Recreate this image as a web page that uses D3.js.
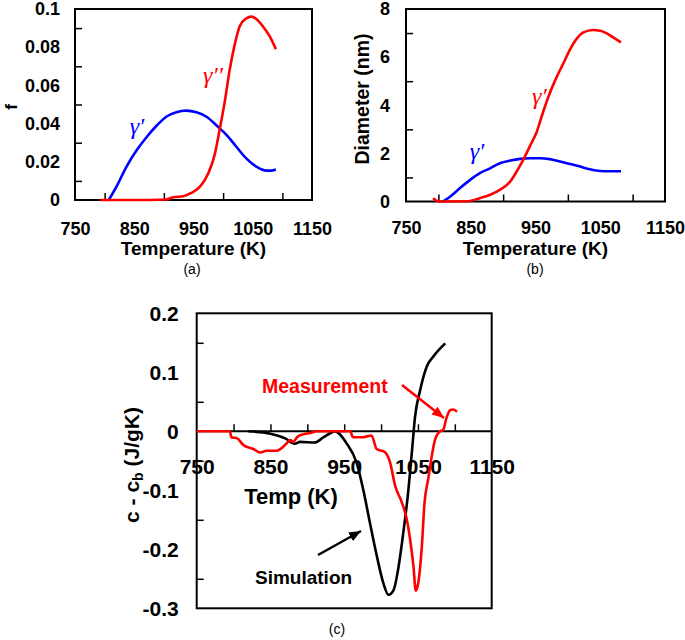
<!DOCTYPE html>
<html>
<head>
<meta charset="utf-8">
<script src="https://cdn.jsdelivr.net/npm/d3@7"></script>
<style>
  body { margin: 0; background: #fff; }
  svg text { font-family: "Liberation Sans", Arial, sans-serif; }
  svg text.greek { font-family: "Liberation Serif", "DejaVu Serif", serif; font-style: italic; }
</style>
</head>
<body>
<div id="chart"></div>
<script>
// Data
// (a) volume fraction vs temperature
const aGp_T = [807, 820, 837, 854, 871, 888, 904, 921, 938, 955, 972, 989, 1006, 1022, 1039, 1056, 1073, 1081, 1089];
const aGp_f = [0, 0.007, 0.0175, 0.026, 0.033, 0.039, 0.0436, 0.046, 0.0468, 0.0459, 0.0436, 0.039, 0.034, 0.028, 0.0218, 0.0175, 0.0154, 0.0154, 0.016];
const aGpp_T = [792, 850, 904, 916, 933, 947, 961, 975, 986, 994, 1003, 1011, 1020, 1028, 1039, 1048, 1056, 1067, 1079, 1089];
const aGpp_f = [0, 0, 0.0003, 0.0014, 0.002, 0.0038, 0.007, 0.014, 0.024, 0.0366, 0.052, 0.068, 0.082, 0.091, 0.0951, 0.096, 0.0948, 0.091, 0.0855, 0.079];

// (b) diameter vs temperature
const bGp_T = [807, 818, 833, 849, 864, 880, 895, 911, 926, 941, 957, 972, 988, 1003, 1019, 1034, 1050, 1065, 1082];
const bGp_D = [0, 0.2, 0.55, 0.9, 1.18, 1.38, 1.59, 1.7, 1.77, 1.8, 1.8, 1.76, 1.66, 1.56, 1.45, 1.34, 1.27, 1.26, 1.26];
const bGpp_T = [792, 797, 803, 844, 864, 880, 895, 911, 921, 931, 941, 952, 962, 972, 983, 993, 1003, 1014, 1024, 1039, 1050, 1060, 1070, 1082];
const bGpp_D = [0.14, 0.03, 0, 0.01, 0.14, 0.28, 0.48, 0.83, 1.25, 1.73, 2.28, 2.9, 3.74, 4.5, 5.19, 5.74, 6.3, 6.78, 7.03, 7.13, 7.1, 6.99, 6.82, 6.61];

// (c) c - cb vs temperature
const simT = [820, 850, 870, 883, 890, 910, 922, 933, 937, 953, 967, 976, 985, 994, 1003, 1010, 1017, 1023, 1030, 1037, 1042, 1046, 1053, 1062, 1071, 1087];
const simC = [0, -0.004, -0.012, -0.021, -0.018, -0.019, -0.01, -0.002, 0, -0.02, -0.054, -0.1, -0.156, -0.21, -0.257, -0.277, -0.269, -0.235, -0.173, -0.1, -0.032, 0.024, 0.07, 0.11, 0.127, 0.149];
const measT = [750, 795, 797, 805, 813, 827, 836, 845, 858, 870, 877, 881, 886, 895, 904, 913, 958, 962, 976, 987, 994, 1005, 1012, 1019, 1028, 1035, 1039, 1044, 1047, 1050, 1055, 1059, 1064, 1069, 1073, 1080, 1084, 1089, 1094, 1098, 1103];
const measC = [0, 0, -0.01, -0.012, -0.023, -0.03, -0.036, -0.033, -0.033, -0.023, -0.015, -0.018, -0.01, -0.005, -0.003, 0, 0, -0.01, -0.01, -0.007, -0.03, -0.035, -0.052, -0.092, -0.12, -0.15, -0.18, -0.23, -0.27, -0.26, -0.2, -0.12, -0.08, -0.04, -0.015, 0, 0.002, 0.024, 0.036, 0.037, 0.033];

// Tick values
const tempLabels = [750, 850, 950, 1050, 1150];
const tempMinor = [800, 900, 1000, 1100];
const tempMinorC = [800, 850, 900, 950, 1000, 1050, 1100];
const fLabels = [0, 0.02, 0.04, 0.06, 0.08, 0.1];
const fMinor = [0.01, 0.03, 0.05, 0.07, 0.09];
const dLabels = [0, 2, 4, 6, 8];
const dMinor = [1, 3, 5, 7];
const cLabels = [-0.3, -0.2, -0.1, 0, 0.1, 0.2];
const cMinor = [-0.25, -0.15, -0.05, 0.05, 0.15];

const svg = d3.select('#chart').append('svg')
  .attr('width', 685)
  .attr('height', 640);

const defs = svg.append('defs');
['black', 'red'].forEach(c => {
  defs.append('marker')
    .attr('id', 'arrow-' + c)
    .attr('markerUnits', 'userSpaceOnUse')
    .attr('viewBox', '0 0 12 10')
    .attr('refX', 12).attr('refY', 5)
    .attr('markerWidth', 12).attr('markerHeight', 10)
    .attr('orient', 'auto')
    .append('path')
    .attr('d', 'M0,0 L12,5 L0,10 Z')
    .attr('fill', c);
});

const numFmt = d => d < 0 ? '-' + Math.abs(d) : String(d);

function styleLabels(g, size) {
  g.select('.domain').remove();
  g.selectAll('text')
    .attr('font-size', size)
    .attr('font-weight', 'bold')
    .attr('fill', '#000');
}

function drawLine(xs, ys, x, y, color) {
  const pts = xs.map((t, i) => [t, ys[i]]);
  svg.append('path')
    .datum(pts)
    .attr('fill', 'none')
    .attr('stroke', color)
    .attr('stroke-width', 2.6)
    .attr('stroke-linejoin', 'round')
    .attr('d', d3.line().x(d => x(d[0])).y(d => y(d[1])).curve(d3.curveMonotoneX));
}

function gammaLabel(x, y, txt, color) {
  svg.append('text')
    .attr('class', 'greek')
    .attr('x', x).attr('y', y)
    .attr('text-anchor', 'middle')
    .attr('font-size', 24)
    .attr('fill', color)
    .text(txt);
}

// Panel (a) and (b) share the same frame style
function smallPanel(x, y, yLabels, yMinor, yPad, xPad) {
  svg.append('g')
    .attr('transform', `translate(${x.range()[0]},0)`)
    .call(d3.axisLeft(y).tickValues(yLabels).tickSize(0).tickPadding(yPad).tickFormat(numFmt))
    .call(g => styleLabels(g, 18));
  svg.append('g')
    .attr('transform', `translate(0,${y(0)})`)
    .call(d3.axisBottom(x).tickValues(tempLabels).tickSize(0).tickPadding(xPad).tickFormat(numFmt))
    .call(g => styleLabels(g, 18));
  // inside ticks
  svg.append('g')
    .attr('transform', `translate(${x.range()[0]},0)`)
    .call(d3.axisLeft(y).tickValues(yMinor).tickSize(-7).tickFormat(''))
    .call(g => g.select('.domain').remove())
    .call(g => g.selectAll('line').attr('stroke', '#000').attr('stroke-width', 1.5));
  svg.append('g')
    .attr('transform', `translate(0,${y(0)})`)
    .call(d3.axisTop(x).tickValues(tempMinor).tickSize(7).tickFormat(''))
    .call(g => g.select('.domain').remove())
    .call(g => g.selectAll('line').attr('stroke', '#000').attr('stroke-width', 1.5));
  svg.append('rect')
    .attr('x', x.range()[0]).attr('y', y.range()[1])
    .attr('width', x.range()[1] - x.range()[0])
    .attr('height', y.range()[0] - y.range()[1])
    .attr('fill', 'none')
    .attr('stroke', '#000')
    .attr('stroke-width', 2);
}

// ---- Panel (a)
const xA = d3.scaleLinear().domain([750, 1150]).range([75, 312]);
const yA = d3.scaleLinear().domain([0, 0.1]).range([200, 9]);
smallPanel(xA, yA, fLabels, fMinor, 15, 22);
drawLine(aGp_T, aGp_f, xA, yA, '#0000ff');
drawLine(aGpp_T, aGpp_f, xA, yA, '#ff0000');
gammaLabel(137, 134, 'γ′', '#0000ff');
gammaLabel(213, 83, 'γ′′', '#ff0000');

svg.append('text')
  .attr('transform', 'translate(17,107) rotate(-90)')
  .attr('text-anchor', 'middle')
  .attr('font-size', 17).attr('font-weight', 'bold')
  .text('f');
svg.append('text')
  .attr('x', 193.5).attr('y', 255)
  .attr('text-anchor', 'middle')
  .attr('font-size', 19).attr('font-weight', 'bold')
  .text('Temperature (K)');
svg.append('text')
  .attr('x', 192).attr('y', 274)
  .attr('text-anchor', 'middle')
  .attr('font-size', 14)
  .text('(a)');

// ---- Panel (b)
const xB = d3.scaleLinear().domain([750, 1150]).range([406, 665]);
const yB = d3.scaleLinear().domain([0, 8]).range([201.5, 9]);
smallPanel(xB, yB, dLabels, dMinor, 16, 20);
drawLine(bGp_T, bGp_D, xB, yB, '#0000ff');
drawLine(bGpp_T, bGpp_D, xB, yB, '#ff0000');
gammaLabel(542, 104, 'γ′′', '#ff0000');
gammaLabel(477, 159, 'γ′', '#0000ff');

svg.append('text')
  .attr('transform', 'translate(369,99) rotate(-90)')
  .attr('text-anchor', 'middle')
  .attr('font-size', 19.5).attr('font-weight', 'bold')
  .text('Diameter (nm)');
svg.append('text')
  .attr('x', 535.5).attr('y', 255)
  .attr('text-anchor', 'middle')
  .attr('font-size', 19).attr('font-weight', 'bold')
  .text('Temperature (K)');
svg.append('text')
  .attr('x', 535).attr('y', 274)
  .attr('text-anchor', 'middle')
  .attr('font-size', 14)
  .text('(b)');

// ---- Panel (c)
const xC = d3.scaleLinear().domain([750, 1150]).range([196.7, 491.7]);
const yC = d3.scaleLinear().domain([-0.3, 0.2]).range([608.3, 313.3]);

svg.append('g')
  .attr('transform', `translate(${xC.range()[0]},0)`)
  .call(d3.axisLeft(yC).tickValues(cLabels).tickSize(0).tickPadding(18).tickFormat(numFmt))
  .call(g => styleLabels(g, 21));
svg.append('g')
  .attr('transform', `translate(0,${yC(0)})`)
  .call(d3.axisBottom(xC).tickValues(tempLabels).tickSize(0).tickPadding(28).tickFormat(numFmt))
  .call(g => styleLabels(g, 21));
svg.append('g')
  .attr('transform', `translate(${xC.range()[0]},0)`)
  .call(d3.axisLeft(yC).tickValues(cMinor).tickSize(-7).tickFormat(''))
  .call(g => g.select('.domain').remove())
  .call(g => g.selectAll('line').attr('stroke', '#000').attr('stroke-width', 1.5));
svg.append('g')
  .attr('transform', `translate(0,${yC(0)})`)
  .call(d3.axisTop(xC).tickValues(tempMinorC).tickSize(7).tickFormat(''))
  .call(g => g.select('.domain').remove())
  .call(g => g.selectAll('line').attr('stroke', '#000').attr('stroke-width', 1.5));
svg.append('line')
  .attr('x1', xC.range()[0]).attr('x2', xC.range()[1])
  .attr('y1', yC(0)).attr('y2', yC(0))
  .attr('stroke', '#000').attr('stroke-width', 2);
svg.append('rect')
  .attr('x', xC.range()[0]).attr('y', yC.range()[1])
  .attr('width', xC.range()[1] - xC.range()[0])
  .attr('height', yC.range()[0] - yC.range()[1])
  .attr('fill', 'none')
  .attr('stroke', '#000')
  .attr('stroke-width', 2);

drawLine(simT, simC, xC, yC, '#000000');
drawLine(measT, measC, xC, yC, '#ff0000');

// annotations
svg.append('text')
  .attr('x', 262).attr('y', 393)
  .attr('font-size', 19.5).attr('font-weight', 'bold')
  .attr('fill', '#ff0000')
  .text('Measurement');
svg.append('line')
  .attr('x1', 402).attr('y1', 385).attr('x2', 444).attr('y2', 418)
  .attr('stroke', '#ff0000').attr('stroke-width', 2.5)
  .attr('marker-end', 'url(#arrow-red)');
svg.append('text')
  .attr('x', 255).attr('y', 584)
  .attr('font-size', 19).attr('font-weight', 'bold')
  .text('Simulation');
svg.append('line')
  .attr('x1', 318).attr('y1', 555).attr('x2', 361).attr('y2', 531)
  .attr('stroke', '#000').attr('stroke-width', 2.5)
  .attr('marker-end', 'url(#arrow-black)');

svg.append('text')
  .attr('x', 291).attr('y', 504)
  .attr('text-anchor', 'middle')
  .attr('font-size', 22).attr('font-weight', 'bold')
  .text('Temp (K)');

const yTitle = svg.append('text')
  .attr('transform', 'translate(139,465) rotate(-90)')
  .attr('text-anchor', 'middle')
  .attr('font-size', 21).attr('font-weight', 'bold');
yTitle.append('tspan').text('c - c');
yTitle.append('tspan').attr('font-size', 14).attr('dy', 4).text('b');
yTitle.append('tspan').attr('dy', -4).text(' (J/gK)');

svg.append('text')
  .attr('x', 337).attr('y', 634)
  .attr('text-anchor', 'middle')
  .attr('font-size', 14)
  .text('(c)');
</script>
</body>
</html>
